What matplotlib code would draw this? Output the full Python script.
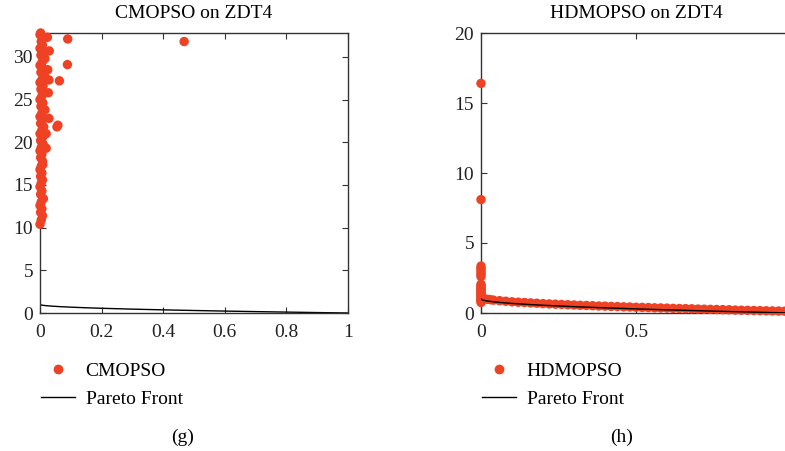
import matplotlib
matplotlib.use('Agg')
import matplotlib.pyplot as plt
from matplotlib.lines import Line2D

plt.rcParams['font.family'] = ['Liberation Serif', 'DejaVu Serif']

# --- data ---
# true Pareto front of ZDT4
pf_x = [0.0, 0.005, 0.01, 0.02, 0.04, 0.06, 0.1, 0.15, 0.2, 0.3, 0.4,
        0.5, 0.6, 0.7, 0.8, 0.9, 1.0]
pf_y = [1.0, 0.929, 0.9, 0.859, 0.8, 0.755, 0.684, 0.613, 0.553, 0.452,
        0.368, 0.293, 0.225, 0.163, 0.106, 0.051, 0.0]

# CMOPSO: dense column near f1 = 0 plus a few outliers
cm_x = [0.0, 0.004, 0.008, 0.002, 0.006, 0.0, 0.004, 0.002, 0.006, 0.0,
        0.004, 0.008, 0.002, 0.006, 0.0, 0.004, 0.008, 0.002, 0.006, 0.0,
        0.004, 0.01, 0.002, 0.008, 0.0, 0.006, 0.012, 0.002, 0.008, 0.0,
        0.006, 0.012, 0.003, 0.009, 0.0, 0.006, 0.014, 0.003, 0.01, 0.0,
        0.007, 0.015, 0.003, 0.011, 0.0, 0.007, 0.016, 0.003, 0.012, 0.0,
        0.008, 0.004, 0.012, 0.0, 0.002,
        0.468, 0.09, 0.089, 0.063, 0.029, 0.027, 0.029, 0.055, 0.058, 0.02,
        0.02, 0.009, 0.011, 0.024, 0.03, 0.025, 0.016]
cm_y = [10.4, 10.9, 11.4, 11.8, 12.2, 12.6, 13.0, 13.9, 14.3, 14.8,
        15.2, 15.6, 16.0, 16.4, 16.8, 17.2, 17.8, 18.2, 18.6, 19.0,
        19.4, 19.8, 20.2, 20.6, 21.0, 21.4, 21.8, 22.2, 22.6, 23.0,
        23.4, 23.8, 24.2, 24.6, 25.0, 25.4, 25.8, 26.2, 26.6, 27.0,
        27.4, 27.8, 28.2, 28.6, 29.0, 29.4, 29.8, 30.2, 30.6, 31.0,
        31.4, 31.8, 32.2, 32.6, 32.8,
        31.8, 32.1, 29.1, 27.2, 27.3, 25.8, 22.8, 21.8, 22.0, 21.0,
        19.3, 17.4, 13.4, 32.3, 30.7, 28.5, 23.8]

# HDMOPSO: column at f1 = 0 and a band along the front
hd_x = [0.0] * 22 + [
    0.005, 0.01, 0.02, 0.03, 0.04, 0.06, 0.08, 0.10, 0.12, 0.14, 0.16,
    0.18, 0.20, 0.22, 0.24, 0.26, 0.28, 0.30, 0.32, 0.34, 0.36, 0.38,
    0.40, 0.42, 0.44, 0.46, 0.48, 0.50, 0.52, 0.54, 0.56, 0.58, 0.60,
    0.62, 0.64, 0.66, 0.68, 0.70, 0.72, 0.74, 0.76, 0.78, 0.80, 0.82,
    0.84, 0.86, 0.88, 0.90, 0.92, 0.94, 0.96, 0.98, 1.00]
hd_y = [0.75, 0.85, 0.95, 1.05, 1.15, 1.25, 1.35, 1.45, 1.55, 1.65, 1.75,
        1.85, 1.95, 2.05, 2.6, 2.75, 2.9, 3.05, 3.2, 3.35, 8.1, 16.4] + [
    1.05, 1.02, 0.98, 0.95, 0.92, 0.88, 0.84, 0.80, 0.77, 0.75, 0.72,
    0.70, 0.67, 0.65, 0.63, 0.61, 0.59, 0.57, 0.55, 0.54, 0.52, 0.50,
    0.49, 0.47, 0.46, 0.44, 0.43, 0.41, 0.40, 0.39, 0.37, 0.36, 0.35,
    0.33, 0.32, 0.31, 0.30, 0.28, 0.27, 0.26, 0.25, 0.24, 0.23, 0.21,
    0.20, 0.19, 0.18, 0.17, 0.16, 0.15, 0.14, 0.13, 0.12]

DOT = '#EF4123'
FS = 14

fig = plt.figure(figsize=(7.85, 4.51), dpi=100)
W, H = 785, 451


def px_axes(x0, y0, x1, y1):
    return fig.add_axes([x0 / W, 1 - y1 / H, (x1 - x0) / W, (y1 - y0) / H])


def style(ax):
    for s in ax.spines.values():
        s.set_color('#333333')
        s.set_linewidth(1.0)
    ax.tick_params(direction='in', top=True, right=True, labelsize=FS,
                   colors='#333333', labelcolor='#222222', length=4)
    ax.tick_params(axis='x', pad=8)
    ax.tick_params(axis='y', pad=5)


def add_legend(ax, name, x_px, y_px):
    handles = [Line2D([], [], marker='o', ls='none', color=DOT, markersize=6),
               Line2D([], [], color='black', lw=1.0)]
    ax.legend(handles, [name, 'Pareto Front'], loc='upper left',
              bbox_to_anchor=(x_px / W, 1 - y_px / H), bbox_transform=fig.transFigure,
              frameon=False, fontsize=FS, borderpad=0, borderaxespad=0,
              handlelength=1.75, handletextpad=0.55, labelspacing=0.55)


# (g) CMOPSO
ax1 = px_axes(40, 33, 348, 313)
ax1.plot(pf_x, pf_y, color='black', lw=1.0, zorder=2)
ax1.scatter(cm_x, cm_y, s=46, color=DOT, edgecolors='none', zorder=3, clip_on=False)
ax1.set_xlim(0, 1)
ax1.set_ylim(0, 32.8)
ax1.set_xticks([0, 0.2, 0.4, 0.6, 0.8, 1])
ax1.set_xticklabels(['0', '0.2', '0.4', '0.6', '0.8', '1'])
ax1.set_yticks([0, 5, 10, 15, 20, 25, 30])
ax1.set_title('CMOPSO on ZDT4', fontsize=FS, pad=11)
style(ax1)
add_legend(ax1, 'CMOPSO', 41, 362)
fig.text(183 / W, 1 - 437 / H, '(g)', fontsize=FS, ha='center', va='center')

# (h) HDMOPSO
ax2 = px_axes(481, 33, 791, 313)
ax2.plot(pf_x, pf_y, color='black', lw=1.0, zorder=4)
ax2.scatter(hd_x, hd_y, s=46, color=DOT, edgecolors='none', zorder=3, clip_on=False)
ax2.set_xlim(0, 1)
ax2.set_ylim(0, 20)
ax2.set_xticks([0, 0.5, 1])
ax2.set_xticklabels(['0', '0.5', ''])
ax2.set_yticks([0, 5, 10, 15, 20])
ax2.set_title('HDMOPSO on ZDT4', fontsize=FS, pad=11)
style(ax2)
add_legend(ax2, 'HDMOPSO', 482, 362)
fig.text(622 / W, 1 - 437 / H, '(h)', fontsize=FS, ha='center', va='center')

fig.savefig('out.png', dpi=100, facecolor='white')
